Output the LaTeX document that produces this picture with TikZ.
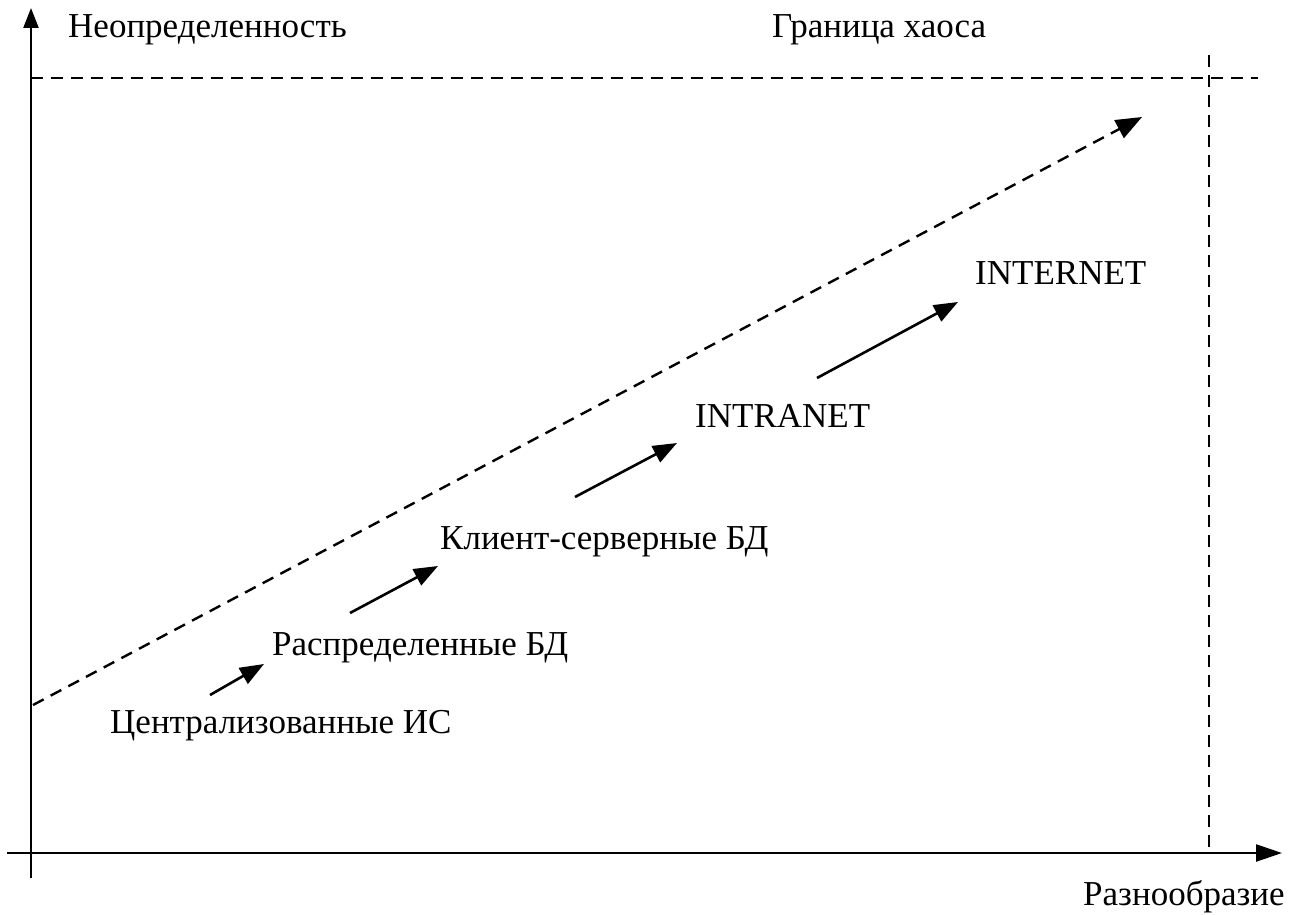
\documentclass[tikz,border=0pt]{standalone}
\usepackage{fontspec}
\setmainfont{Liberation Serif}
\usetikzlibrary{arrows.meta}
\begin{document}
\begin{tikzpicture}[x=1pt,y=-1pt,
  lbl/.style={anchor=base west,inner sep=0pt,font=\fontsize{35}{41}\selectfont},
  axis/.style={line width=2.4pt},
  guide/.style={line width=2.4pt,dash pattern=on 12pt off 8pt},
  stage/.style={line width=2.6pt,-{Triangle[length=24pt,width=18pt]}}]
\useasboundingbox (0,0) rectangle (1298,915);
% axes
\coordinate (yb) at (31,878);
\coordinate (yt) at (31,8);
\coordinate (xl) at (7,853);
\coordinate (xr) at (1282,853);
\draw[axis,-{Triangle[length=20pt,width=15pt]}] (yb) -- (yt);
\draw[axis,-{Triangle[length=26pt,width=17pt]}] (xl) -- (xr);
% limits
\coordinate (hl) at (31,78);
\coordinate (hr) at (1258,78);
\coordinate (vt) at (1209,55);
\coordinate (vb) at (1209,853);
\draw[guide] (hl) -- (hr);
\draw[guide] (vt) -- (vb);
% trend
\coordinate (ts) at (33,705);
\coordinate (te) at (1142,117);
\draw[guide,-{Triangle[length=26pt,width=20pt]}] (ts) -- (te);
% labels
\node[lbl] (unc) at (68,38) {Неопределенность};
\node[lbl] (chaos) at (772,38) {Граница хаоса};
\node[lbl] (div) at (1083,905) {Разнообразие};
\node[lbl] (cis) at (110,733) {Централизованные ИС};
\node[lbl] (ddb) at (272,655) {Распределенные БД};
\node[lbl] (csdb) at (440,549) {Клиент-серверные БД};
\node[lbl] (intra) at (695,427) {INTRANET};
\node[lbl] (inter) at (975,284) {INTERNET};
% stage arrows
\coordinate (a1s) at (210,695); \coordinate (a1e) at (264,664);
\coordinate (a2s) at (350,613); \coordinate (a2e) at (438,566);
\coordinate (a3s) at (575,497); \coordinate (a3e) at (677,443);
\coordinate (a4s) at (817,378); \coordinate (a4e) at (958,302);
\draw[stage] (a1s) -- (a1e);
\draw[stage] (a2s) -- (a2e);
\draw[stage] (a3s) -- (a3e);
\draw[stage] (a4s) -- (a4e);
\end{tikzpicture}
\end{document}
